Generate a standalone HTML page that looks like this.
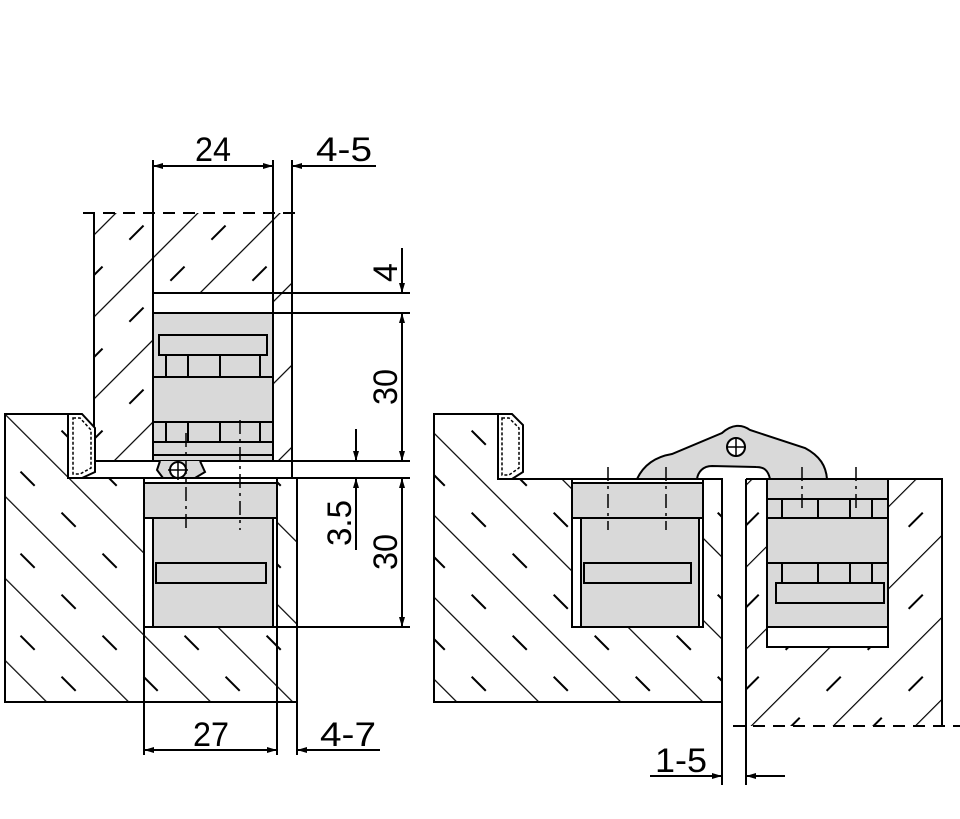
<!DOCTYPE html>
<html><head><meta charset="utf-8"><style>html,body{margin:0;padding:0;background:#fff}svg{display:block}</style></head>
<body>
<svg width="960" height="819" viewBox="0 0 960 819" xmlns="http://www.w3.org/2000/svg" font-family="Liberation Sans, sans-serif">
<defs>
<pattern id="hb" width="58" height="58" patternUnits="userSpaceOnUse" patternTransform="rotate(45)">
<line x1="0" y1="0" x2="0" y2="58" stroke="#000" stroke-width="2.4"/>
<line x1="29" y1="0" x2="29" y2="58" stroke="#000" stroke-width="2" stroke-dasharray="20 38"/>
</pattern>
<pattern id="hf" width="58" height="58" patternUnits="userSpaceOnUse" patternTransform="rotate(-45)">
<line x1="0" y1="0" x2="0" y2="58" stroke="#000" stroke-width="2.4"/>
<line x1="29" y1="0" x2="29" y2="58" stroke="#000" stroke-width="2" stroke-dasharray="20 38"/>
</pattern>
<marker id="a" viewBox="0 0 10 6" refX="10" refY="3" markerWidth="18" markerHeight="6" markerUnits="userSpaceOnUse" orient="auto-start-reverse"><path d="M0,0L10,3L0,6z" fill="#000"/></marker>
</defs>
<g stroke="#000" stroke-width="2" fill="none">
<!-- LEFT VIEW door -->
<rect x="94" y="213" width="198" height="248" fill="url(#hb)" stroke="none"/>
<line x1="94" y1="213" x2="94" y2="461"/>
<line x1="292" y1="160" x2="292" y2="478"/>
<line x1="273" y1="160" x2="273" y2="461"/>
<line x1="153" y1="160" x2="153" y2="461"/>
<line x1="83" y1="213" x2="303" y2="213" stroke-dasharray="12 8"/>
<rect x="153" y="293" width="120" height="20" fill="#fff"/>
<rect x="153" y="313" width="120" height="148" fill="#d9d9d9"/>
<rect x="159" y="335" width="108" height="20" fill="#d9d9d9"/>
<path d="M166 355V377M188 355V377M220 355V377M260 355V377M153 377H273"/>
<path d="M153 422H273M153 442H273M166 422V442M188 422V442M220 422V442M260 422V442M153 455H273"/>
<line x1="153" y1="293" x2="410" y2="293"/>
<line x1="153" y1="313" x2="410" y2="313"/>
<line x1="94" y1="461" x2="410" y2="461"/>
<line x1="68" y1="478" x2="410" y2="478"/>
<!-- left frame -->
<path d="M5 414H68V478H297V702H5Z" fill="url(#hf)"/>
<rect x="144" y="478" width="133" height="149" fill="#fff"/>
<rect x="144" y="483" width="133" height="35" fill="#d9d9d9"/>
<rect x="153" y="518" width="120" height="109" fill="#d9d9d9"/>
<rect x="156" y="563" width="110" height="20" fill="#d9d9d9"/>
<line x1="144" y1="478" x2="144" y2="755"/>
<line x1="277" y1="478" x2="277" y2="755"/>
<line x1="297" y1="702" x2="297" y2="755"/>
<line x1="144" y1="627" x2="410" y2="627"/>
<!-- seal left -->
<path d="M68 414H82L95 428V472L82 478H68Z" fill="#fff"/>
<path d="M73 418H80L91 430V468L80 474H73Z" stroke-width="1.5" stroke-dasharray="3 2"/>
<!-- knuckle -->
<path d="M160 461L157 470L163 478H195L205 472L200 461" fill="#d9d9d9"/>
<circle cx="178" cy="470" r="8" fill="#fff"/>
<path d="M168 470H188M178 460V480" stroke-width="1.5"/>
<path d="M186 433V530" stroke-width="1.5" stroke-dasharray="14 5 3 5"/>
<path d="M240 420V530" stroke-width="1.5" stroke-dasharray="14 5 3 5"/>
<!-- dims left -->
<line x1="153" y1="166" x2="273" y2="166" marker-start="url(#a)" marker-end="url(#a)"/>
<line x1="376" y1="166" x2="292" y2="166" marker-end="url(#a)"/>
<line x1="402" y1="248" x2="402" y2="293" marker-end="url(#a)"/>
<line x1="402" y1="313" x2="402" y2="461" marker-start="url(#a)" marker-end="url(#a)"/>
<line x1="402" y1="478" x2="402" y2="627" marker-start="url(#a)" marker-end="url(#a)"/>
<line x1="356" y1="429" x2="356" y2="461" marker-end="url(#a)"/>
<line x1="356" y1="550" x2="356" y2="478" marker-end="url(#a)"/>
<line x1="144" y1="750" x2="277" y2="750" marker-start="url(#a)" marker-end="url(#a)"/>
<line x1="380" y1="750" x2="297" y2="750" marker-end="url(#a)"/>
<!-- RIGHT VIEW frame -->
<path d="M434 414H498V479H722V702H434Z" fill="url(#hf)"/>
<rect x="572" y="479" width="131" height="148" fill="#fff"/>
<rect x="572" y="483" width="131" height="35" fill="#d9d9d9"/>
<rect x="581" y="518" width="118" height="109" fill="#d9d9d9"/>
<rect x="584" y="563" width="107" height="20" fill="#d9d9d9"/>
<path d="M498 414H512L523 425V472L512 479H498Z" fill="#fff"/>
<path d="M502 418H509L519 428V468L509 475H502Z" stroke-width="1.5" stroke-dasharray="3 2"/>
<!-- right door -->
<path d="M746 479H942V726H746Z" fill="url(#hb)" stroke="none"/>
<path d="M746 479H942V726"/>
<rect x="767" y="479" width="121" height="168" fill="#fff"/>
<rect x="767" y="479" width="121" height="148" fill="#d9d9d9"/>
<path d="M767 499H888M767 518H888M782 499V518M818 499V518M850 499V518M872 499V518"/>
<path d="M767 563H888M782 563V583M818 563V583M850 563V583M872 563V583"/>
<rect x="776" y="583" width="108" height="20" fill="#d9d9d9"/>
<line x1="733" y1="726" x2="960" y2="726" stroke-dasharray="12 8"/>
<!-- gap -->
<line x1="722" y1="479" x2="722" y2="785"/>
<line x1="746" y1="479" x2="746" y2="785"/>
<!-- arm -->
<path d="M637 479C645 462 660 456 672 454L722 433C732 424 742 424 750 430L805 448C820 456 826 466 827 479H770C768 470 764 467 756 467L712 466C703 466 698 472 697 479Z" fill="#d9d9d9"/>
<circle cx="736" cy="447" r="9" fill="#fff"/>
<path d="M726 447H746M736 437V457" stroke-width="1.5"/>
<path d="M608 467V530M666 467V530M802 467V508M856 467V510" stroke-width="1.5" stroke-dasharray="14 5 3 5"/>
<line x1="650" y1="776" x2="722" y2="776" marker-end="url(#a)"/>
<line x1="785" y1="776" x2="746" y2="776" marker-end="url(#a)"/>
</g>
<g font-size="34" fill="#000">
<text x="195" y="161" textLength="36" lengthAdjust="spacingAndGlyphs">24</text>
<text x="316" y="161" textLength="56" lengthAdjust="spacingAndGlyphs">4-5</text>
<text x="193" y="746" textLength="36" lengthAdjust="spacingAndGlyphs">27</text>
<text x="320" y="746" textLength="56" lengthAdjust="spacingAndGlyphs">4-7</text>
<text x="655" y="772" textLength="52" lengthAdjust="spacingAndGlyphs">1-5</text>
<text transform="translate(397,282) rotate(-90)" >4</text>
<text transform="translate(397,405) rotate(-90)" textLength="36" lengthAdjust="spacingAndGlyphs">30</text>
<text transform="translate(397,570) rotate(-90)" textLength="36" lengthAdjust="spacingAndGlyphs">30</text>
<text transform="translate(351,546) rotate(-90)" textLength="46" lengthAdjust="spacingAndGlyphs">3.5</text>
</g>
</svg>
</body></html>
